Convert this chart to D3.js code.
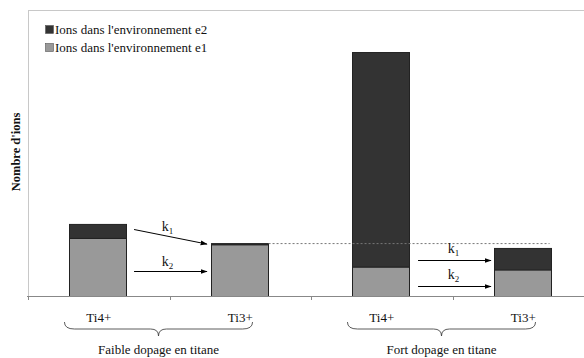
<!DOCTYPE html>
<html><head><meta charset="utf-8">
<script src="https://cdn.jsdelivr.net/npm/d3@7"></script>
<style>body{margin:0;background:#fff}svg{display:block}</style>
</head><body><svg id="c" width="584" height="358"></svg>
<script>
const categories = ["A","B","C","D"];
const tickLabels = ["Ti4+","Ti3+","Ti4+","Ti3+"];
const groups = ["Faible dopage en titane","Fort dopage en titane"];
const seriesNames = ["Ions dans l'environnement e1","Ions dans l'environnement e2"];
const e1 = [20.3, 18.1, 10.3, 9.3];
const e2 = [4.9, 0.4, 75.0, 7.5];
const colors = ["#999999","#333333"];
const yLabel = "Nombre d'ions";

const FONT = "'Liberation Serif', 'Times New Roman', Times, 'DejaVu Serif', serif";
const svg = d3.select("#c").attr("font-family", FONT);
const m = {l:28, t:10, r:-10, b:62};
const W = 584, H = 358;
const x = d3.scaleBand().domain(categories).range([m.l, W - m.r]).paddingInner(0.6).paddingOuter(0.3);
const xb = d3.scaleBand().domain(categories).range([m.l, W - m.r]);
const y = d3.scaleLinear().domain([0, 100]).range([H - m.b, m.t]);
const y0 = y(0);

// plot border
svg.append("line").attr("x1", m.l).attr("x2", W).attr("y1", m.t+0.5).attr("y2", m.t+0.5).attr("stroke", "#c8c8c8");
svg.append("line").attr("x1", m.l+0.5).attr("x2", m.l+0.5).attr("y1", m.t).attr("y2", y0).attr("stroke", "#c8c8c8");

// stacked bars
const stack = d3.stack().keys([0,1]).value((d,k)=> k===0 ? e1[d] : e2[d]);
const stacked = stack(d3.range(categories.length));
stacked.forEach((layer, li) => {
  svg.append("g").selectAll("rect").data(layer).join("rect")
    .attr("x", (d,i)=> Math.round(x(categories[i])) - 0.5)
    .attr("width", Math.round(x.bandwidth()))
    .attr("y", d => y(d[1]) + 0.5)
    .attr("height", d => Math.max(0, y(d[0]) - y(d[1])))
    .attr("fill", colors[li])
    .attr("stroke", "#222").attr("stroke-width", 1);
});

// dashed reference line at top of Ti3+ low bar
const refY = y(e1[1] + e2[1]);
svg.append("line")
  .attr("x1", x(categories[1]) + x.bandwidth()).attr("x2", x(categories[3]) + x.bandwidth() - 2)
  .attr("y1", refY + 0.5).attr("y2", refY + 0.5)
  .attr("stroke", "#777").attr("stroke-dasharray", "2,2");

// x axis
const axis = d3.axisBottom(xb).tickSize(4).tickFormat("");
const ax = svg.append("g").attr("transform", `translate(0,${y0})`).call(axis);
ax.select(".domain").attr("stroke", "#888").attr("d", `M${m.l-1},0.5H${W}`);
ax.selectAll(".tick").remove();
[0,1,2,3].forEach(i => {
  const tx = Math.round(xb(categories[i])) + 0.5;
  ax.append("line").attr("x1", tx).attr("x2", tx).attr("y1", 0).attr("y2", 4).attr("stroke", "#888");
});

// tick labels
svg.append("g").selectAll("text").data(tickLabels).join("text")
  .attr("x", (d,i)=> x(categories[i]) + x.bandwidth()/2)
  .attr("y", 322)
  .attr("text-anchor", "middle").attr("font-size", 13).attr("fill", "#111")
  .text(d => d);

// braces
function brace(x1, x2, yT, h) {
  const mid = (x1 + x2) / 2, q = h / 2;
  return `M${x1},${yT} Q${x1},${yT+q} ${x1+10},${yT+q} L${mid-8},${yT+q} Q${mid},${yT+q} ${mid},${yT+h} Q${mid},${yT+q} ${mid+8},${yT+q} L${x2-10},${yT+q} Q${x2},${yT+q} ${x2},${yT}`;
}
groups.forEach((g, gi) => {
  const a = x(categories[gi*2]) - 6, b = x(categories[gi*2+1]) + x.bandwidth() - 16;
  svg.append("path").attr("d", brace(a, b, 322, 14)).attr("fill", "none").attr("stroke", "#333").attr("stroke-width", 0.8);
  svg.append("text").attr("x", (a+b)/2).attr("y", 354).attr("text-anchor", "middle")
    .attr("font-size", 13).attr("fill", "#111").text(g);
});

// arrows
const defs = svg.append("defs");
defs.append("marker").attr("id", "ah").attr("viewBox", "0 0 10 10").attr("refX", 9).attr("refY", 5)
  .attr("markerWidth", 7).attr("markerHeight", 7).attr("markerUnits", "userSpaceOnUse").attr("orient", "auto")
  .append("path").attr("d", "M0,1.5L10,5L0,8.5Z").attr("fill", "#000");
function arrow(x1, y1, x2, y2) {
  svg.append("line").attr("x1", x1).attr("y1", y1).attr("x2", x2).attr("y2", y2)
    .attr("stroke", "#000").attr("stroke-width", 1).attr("marker-end", "url(#ah)");
}
function klabel(cx, cy, n) {
  const t = svg.append("text").attr("x", cx).attr("y", cy).attr("text-anchor", "middle").attr("font-size", 14).attr("fill", "#111");
  t.append("tspan").text("k");
  t.append("tspan").attr("font-size", 9).attr("dy", 3).text(n);
}
// low doping
const lA = x(categories[0]) + x.bandwidth() + 7, lB = x(categories[1]) - 5;
arrow(lA, 229.5, lB, refY + 1);
arrow(lA, 271.5, lB, 271.5);
klabel((lA+lB)/2 - 3, 231, "1");
klabel((lA+lB)/2 - 3, 266, "2");
// high doping
const hA = x(categories[2]) + x.bandwidth() + 8, hB = x(categories[3]) - 4;
arrow(hA, 260.5, hB, 260.5);
arrow(hA, 286.5, hB, 286.5);
klabel((hA+hB)/2 - 1, 253, "1");
klabel((hA+hB)/2 - 1, 279, "2");

// legend
const leg = svg.append("g");
[1,0].forEach((si, i) => {
  const ly = 25 + i*18;
  leg.append("rect").attr("x", 45.5).attr("y", ly + 0.5).attr("width", 8).attr("height", 8)
    .attr("fill", colors[si]).attr("stroke", "#555").attr("stroke-width", 0.6);
  leg.append("text").attr("x", 55).attr("y", ly + 9).attr("font-size", 13).attr("fill", "#111").text(seriesNames[si]);
});

// y label
svg.append("text").attr("transform", `translate(20,152) rotate(-90)`).attr("text-anchor", "middle")
  .attr("font-size", 12.5).attr("font-weight", "bold").attr("fill", "#111").text(yLabel);
</script></body></html>
